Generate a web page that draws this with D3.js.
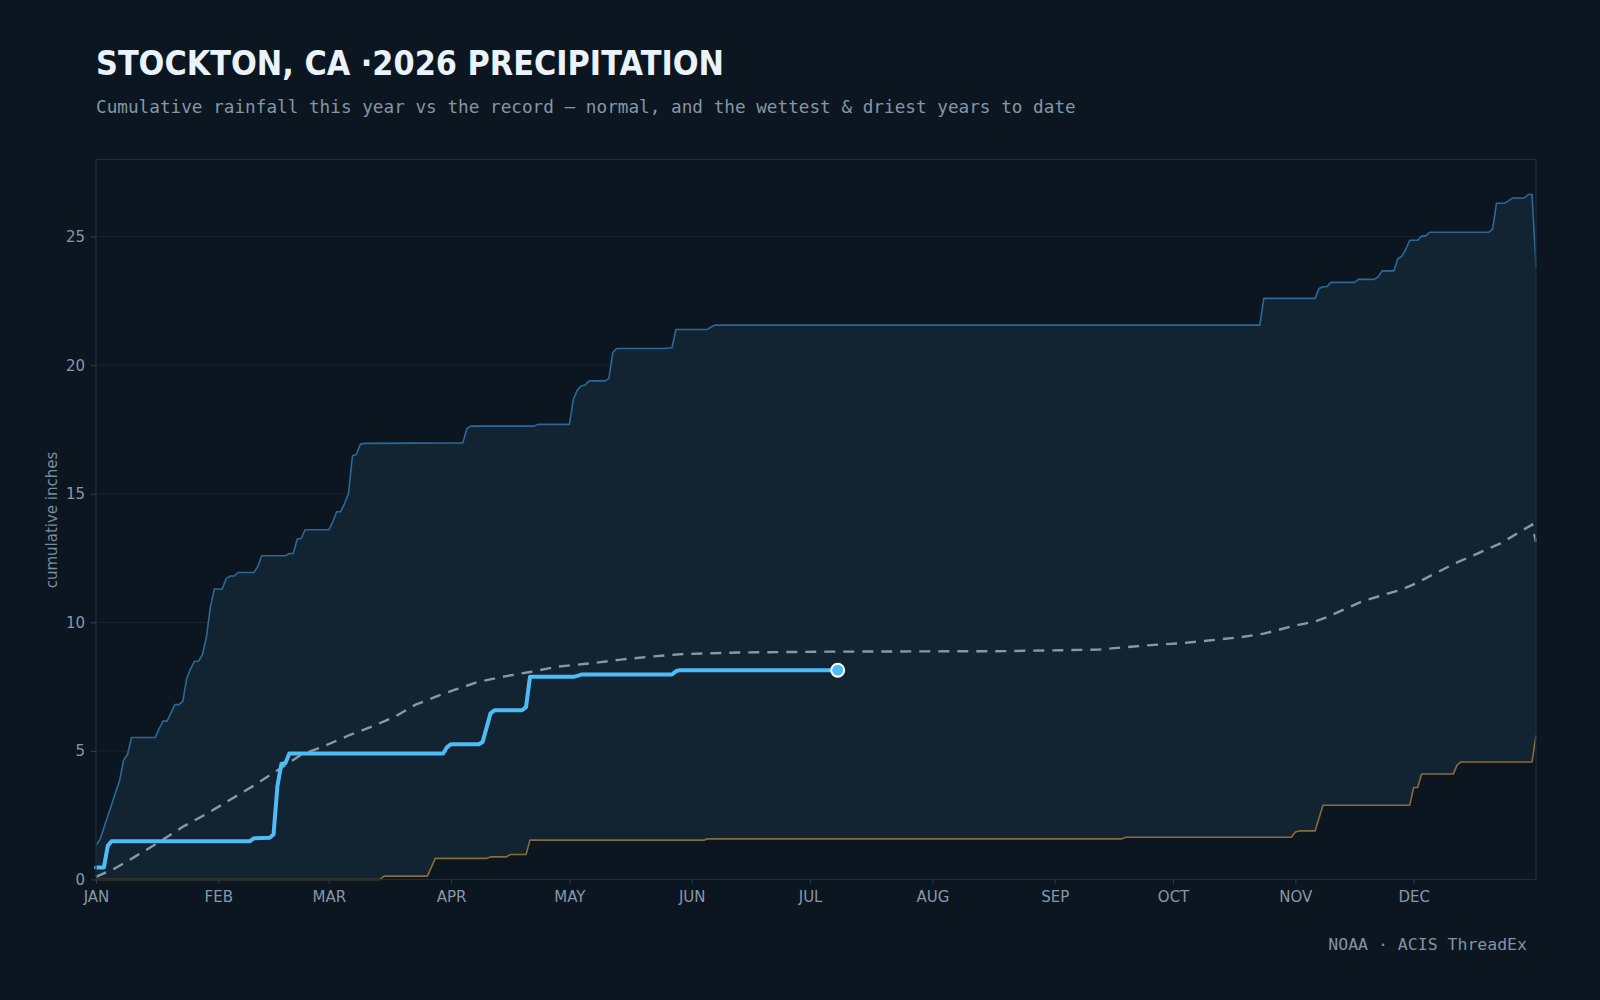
<!DOCTYPE html>
<html>
<head>
<meta charset="utf-8">
<script src="https://cdn.jsdelivr.net/npm/d3@7"></script>
<style>
  html, body { margin: 0; padding: 0; background: #0b1620; }
  svg { display: block; }
</style>
</head>
<body>
<div id="chart"></div>
<script>
// day-of-year (0 = Jan 1) and cumulative inches
const wettest = [
  [0,1.33],[1,1.55],[6,3.86],[7,4.64],[8,4.87],[9,5.52],[15,5.52],[16,5.87],[17,6.16],[18,6.16],
  [20,6.8],[21,6.8],[22,6.93],[23,7.82],[24,8.2],[25,8.49],[26,8.49],[27,8.75],[28,9.44],[29,10.6],
  [30,11.3],[32,11.3],[33,11.7],[34,11.8],[35,11.8],[36,11.94],[40,11.94],[41,12.16],[42,12.59],
  [48,12.59],[49,12.68],[50,12.68],[51,13.24],[52,13.26],[53,13.6],[59,13.6],[60,13.9],[61,14.3],
  [62,14.3],[63,14.62],[64,15.01],[65,16.48],[66,16.53],[67,16.93],[68,16.96],[93,16.98],[94,17.54],
  [95,17.63],[111,17.63],[112,17.7],[120,17.7],[121,18.67],[122,19.03],[123,19.19],[124,19.23],
  [125,19.39],[129,19.39],[130,19.48],[131,20.5],[132,20.65],[144,20.65],[146,20.68],[147,21.39],
  [155,21.39],[156,21.5],[157,21.56],[295,21.56],[296,22.6],[309,22.6],[310,22.98],[311,23.05],
  [312,23.05],[313,23.22],[319,23.22],[320,23.34],[324,23.34],[325,23.44],[326,23.67],[329,23.67],
  [330,24.15],[331,24.24],[332,24.51],[333,24.86],[335,24.86],[336,25.02],[337,25.02],[338,25.17],
  [353,25.17],[354,25.29],[355,26.3],[357,26.3],[358,26.39],[359,26.5],[362,26.5],[363,26.64],
  [364,26.64],[365,23.83]
];
const driest = [
  [0,0],[72,0],[73,0.13],[84,0.13],[86,0.82],[99,0.82],[100,0.88],[104,0.88],[105,0.97],[109,0.97],
  [110,1.53],[154,1.53],[155,1.58],[260,1.58],[261,1.645],[303,1.645],[304,1.85],[305,1.89],
  [309,1.89],[311,2.89],[333,2.89],[334,3.58],[335,3.58],[336,4.1],[344,4.1],[345,4.45],[346,4.57],
  [364,4.57],[365,5.61]
];
const normal = [
  [0,0.1],[5,0.45],[10,0.9],[16,1.45],[22,2.05],[28,2.55],[34,3.1],[40,3.65],[46,4.25],[52,4.85],
  [58,5.2],[64,5.6],[70,5.95],[76,6.35],[81,6.8],[86,7.1],[91,7.38],[97,7.69],[104,7.91],[110,8.07],
  [117,8.28],[125,8.4],[133,8.55],[140,8.66],[148,8.76],[163,8.83],[185,8.86],[230,8.88],[254,8.94],
  [265,9.09],[276,9.2],[290,9.42],[296,9.56],[303,9.84],[309,10.04],[312,10.2],[321,10.82],[331,11.28],
  [334,11.48],[343,12.18],[345,12.33],[356,13.07],[363,13.71],[364,13.8],[365,13.13]
];
const thisYear = [
  [0,0.47],[2,0.47],[3,1.32],[4,1.49],[39,1.49],[40,1.6],[44,1.62],[45,1.75],[46,3.65],[47,4.5],
  [48,4.52],[49,4.9],[88,4.9],[89,5.15],[90,5.26],[97,5.26],[98,5.35],[100,6.46],[101,6.58],
  [108,6.58],[109,6.71],[110,7.88],[121,7.88],[122,7.92],[123,7.97],[146,7.97],[147,8.1],
  [148,8.14],[188,8.14]
];
const monthStarts = [0,31,59,90,120,151,181,212,243,273,304,334];
const monthLabels = ['JAN','FEB','MAR','APR','MAY','JUN','JUL','AUG','SEP','OCT','NOV','DEC'];
const yTicks = [0,5,10,15,20,25];

const width = 1600;
const height = 1000;
const margin = {top: 159.5, right: 64, bottom: 120.5, left: 96};
const bg = '#0b1620';

const svg = d3.select('#chart')
  .append('svg')
  .attr('width', width)
  .attr('height', height)
  .style('background', bg);

const x = d3.scaleLinear()
  .domain([0, 365])
  .range([margin.left, width - margin.right]);

const y = d3.scaleLinear()
  .domain([0, 28])
  .range([height - margin.bottom, margin.top]);

// grid
svg.append('g')
  .selectAll('line')
  .data(yTicks.filter(d => d > 0))
  .join('line')
    .attr('x1', x(0)).attr('x2', x(365))
    .attr('y1', d => y(d)).attr('y2', d => y(d))
    .attr('stroke', '#15263a')
    .attr('stroke-width', 1);

// band between wettest and driest
const under = d3.area().x(d => x(d[0])).y0(y(0)).y1(d => y(d[1]));
svg.append('path').datum(wettest).attr('d', under).attr('fill', '#122332');
svg.append('path').datum(driest).attr('d', under).attr('fill', '#0c1620');

const line = d3.line().x(d => x(d[0])).y(d => y(d[1]));

svg.append('path').datum(wettest)
  .attr('d', line).attr('fill', 'none')
  .attr('stroke', '#2d6896').attr('stroke-width', 1.6).attr('stroke-linejoin', 'round');

svg.append('path').datum(driest)
  .attr('d', line).attr('fill', 'none')
  .attr('stroke', '#8a6b3c').attr('stroke-width', 1.6).attr('stroke-linejoin', 'round');

svg.append('path').datum(normal)
  .attr('d', line).attr('fill', 'none')
  .attr('stroke', '#8a98a6').attr('stroke-width', 2.4)
  .attr('stroke-dasharray', '11,8');

svg.append('path').datum(thisYear)
  .attr('d', line).attr('fill', 'none')
  .attr('stroke', '#4fbdf5').attr('stroke-width', 4)
  .attr('stroke-linejoin', 'round').attr('stroke-linecap', 'round');

const last = thisYear[thisYear.length - 1];
svg.append('circle')
  .attr('cx', x(last[0])).attr('cy', y(last[1])).attr('r', 6.5)
  .attr('fill', '#4fbdf5').attr('stroke', '#ffffff').attr('stroke-width', 2);

// frame
svg.append('rect')
  .attr('x', x(0)).attr('y', y(28))
  .attr('width', x(365) - x(0)).attr('height', y(0) - y(28))
  .attr('fill', 'none').attr('stroke', '#1a2e40').attr('stroke-width', 1.2);

// axes
function xAxis(g) {
  g.attr('transform', `translate(0,${y(0)})`)
    .call(d3.axisBottom(x).tickValues(monthStarts).tickSize(4).tickPadding(8)
      .tickFormat((d, i) => monthLabels[i]));
}
function yAxis(g) {
  g.attr('transform', `translate(${x(0)},0)`)
    .call(d3.axisLeft(y).tickValues(yTicks).tickSize(5).tickPadding(6));
}
[xAxis, yAxis].forEach(fn => {
  const g = svg.append('g').call(fn);
  g.select('.domain').remove();
  g.selectAll('.tick line').attr('stroke', '#2b4054');
  g.selectAll('.tick text')
    .attr('fill', '#8797aa')
    .attr('font-family', 'DejaVu Sans, sans-serif')
    .attr('font-size', 15);
});

svg.append('text')
  .attr('transform', 'translate(57,520) rotate(-90)')
  .attr('text-anchor', 'middle')
  .attr('fill', '#7b8c9e')
  .attr('font-family', 'DejaVu Sans, sans-serif')
  .attr('font-size', 15)
  .text('cumulative inches');

// titles
svg.append('text')
  .attr('x', 96).attr('y', 75)
  .attr('fill', '#eaf2fa')
  .attr('font-family', 'DejaVu Sans, sans-serif')
  .attr('font-weight', 'bold')
  .attr('font-size', 33)
  .attr('textLength', 628).attr('lengthAdjust', 'spacingAndGlyphs')
  .text('STOCKTON, CA ·2026 PRECIPITATION');

svg.append('text')
  .attr('x', 96).attr('y', 112.5)
  .attr('fill', '#8497a8')
  .attr('font-family', 'DejaVu Sans Mono, monospace')
  .attr('font-size', 17.7)
  .text('Cumulative rainfall this year vs the record — normal, and the wettest & driest years to date');

svg.append('text')
  .attr('x', 1527).attr('y', 950)
  .attr('text-anchor', 'end')
  .attr('fill', '#8293a4')
  .attr('font-family', 'DejaVu Sans Mono, monospace')
  .attr('font-size', 16.5)
  .text('NOAA · ACIS ThreadEx');
</script>
</body>
</html>
